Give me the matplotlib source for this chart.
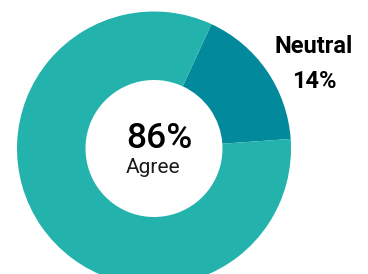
import matplotlib.pyplot as plt

# shares as drawn in the ring, and the labels shown on the chart
categories = ["Neutral", "Agree"]
shares = [17, 83]
label_values = {"Agree": "86%", "Neutral": "14%"}
colors = ["#02899c", "#23b3ac"]

W, H = 368, 274
fig = plt.figure(figsize=(W / 100, H / 100), dpi=100)
ax = fig.add_axes([0, 0, 1, 1])

cx, cy = 154, H - 148.5
ax.pie(shares, colors=colors, startangle=4, counterclock=True,
       center=(cx, cy), radius=137, frame=True,
       wedgeprops=dict(width=68.5, linewidth=0))
ax.set_xlim(0, W)
ax.set_ylim(0, H)
ax.set_aspect("equal")
ax.axis("off")

# centre text
ax.text(159, H - 148, label_values["Agree"], fontsize=25.5, family="Roboto",
        fontweight="medium", ha="center", va="baseline", color="black")
ax.text(153.5, H - 173, categories[1], fontsize=15, family="Roboto",
        ha="center", va="baseline", color="#1a1a1a")

# outside label for neutral
ax.text(314, H - 53, categories[0], fontsize=17, family="Roboto",
        fontweight="bold", ha="center", va="baseline", color="black")
ax.text(314, H - 88, label_values["Neutral"], fontsize=17, family="Roboto",
        fontweight="bold", ha="center", va="baseline", color="black")

fig.savefig("out.png", dpi=100)
